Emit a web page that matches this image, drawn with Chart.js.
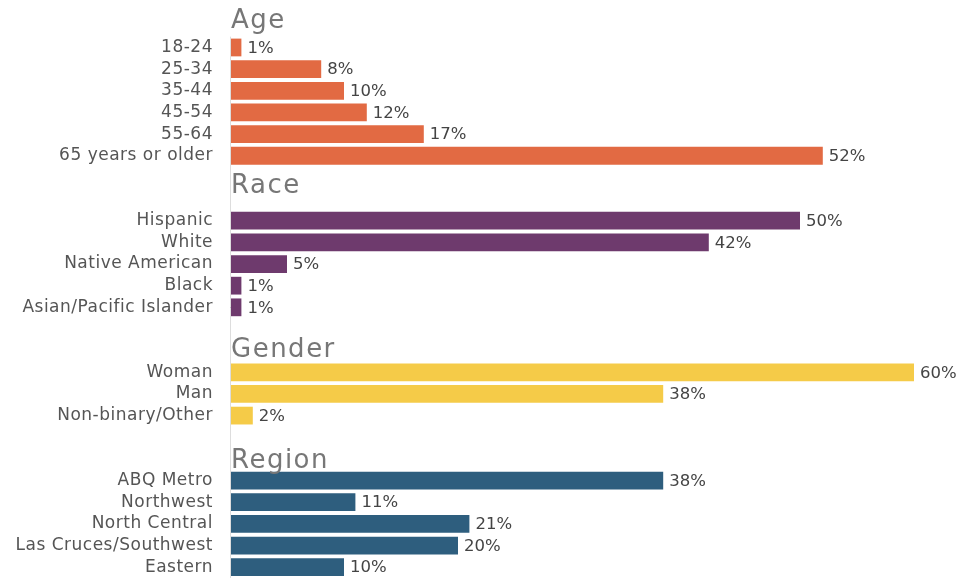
<!DOCTYPE html>
<html>
<head>
<meta charset="utf-8">
<script src="https://cdn.jsdelivr.net/npm/chart.js@4"></script>
<style>
  html, body { margin: 0; padding: 0; background: #fff; }
  #wrap { width: 975px; height: 579px; position: relative; }
</style>
</head>
<body>
<div id="wrap"><canvas id="demoChart"></canvas></div>
<script>
// data
const groupTitles = ['Age', 'Race', 'Gender', 'Region'];
const ageLabels = ['18-24', '25-34', '35-44', '45-54', '55-64', '65 years or older'];
const ageValues = [1, 8, 10, 12, 17, 52];
const raceLabels = ['Hispanic', 'White', 'Native American', 'Black', 'Asian/Pacific Islander'];
const raceValues = [50, 42, 5, 1, 1];
const genderLabels = ['Woman', 'Man', 'Non-binary/Other'];
const genderValues = [60, 38, 2];
const regionLabels = ['ABQ Metro', 'Northwest', 'North Central', 'Las Cruces/Southwest', 'Eastern'];
const regionValues = [38, 11, 21, 20, 10];

const groupColors = ['#E26A43', '#6E3A6D', '#F5CB48', '#2E5E7E'];
const gapRows = [1, 2, 2, 2];
const headerShift = [-0.89, -1.27, -0.69, -0.56]; // header baseline, in rows before first bar

const groups = [
    [ageLabels, ageValues],
    [raceLabels, raceValues],
    [genderLabels, genderValues],
    [regionLabels, regionValues]
];

const labels = [];
const values = [];
const colors = [];
const headers = [];

groups.forEach(function(g, i) {
    for (let k = 0; k < gapRows[i]; k++) {
        labels.push('');
        values.push(null);
        colors.push('rgba(0,0,0,0)');
    }
    headers.push({ text: groupTitles[i], row: labels.length + headerShift[i] });
    g[0].forEach(function(lbl, j) {
        labels.push(lbl);
        values.push(g[1][j]);
        colors.push(groupColors[i]);
    });
});

const FONT = "'DejaVu Sans', sans-serif";

const extras = {
    id: 'extras',
    beforeDraw(chart) {
        // the original font is wide, so spread the letters a little
        chart.ctx.letterSpacing = '0.5px';
    },
    afterDatasetsDraw(chart) {
        const ctx = chart.ctx;
        const x = chart.scales.x;
        const y = chart.scales.y;
        ctx.save();
        // thin axis line
        ctx.strokeStyle = '#dddddd';
        ctx.lineWidth = 1;
        ctx.beginPath();
        ctx.moveTo(x.left + 0.5, y.getPixelForValue(0.5));
        ctx.lineTo(x.left + 0.5, chart.chartArea.bottom);
        ctx.stroke();

        // value labels
        ctx.fillStyle = '#444444';
        ctx.font = '16.5px ' + FONT;
        ctx.letterSpacing = '0px';
        ctx.textAlign = 'left';
        ctx.textBaseline = 'middle';
        chart.getDatasetMeta(0).data.forEach(function(bar, i) {
            const v = values[i];
            if (v === null) return;
            ctx.fillText(v + '%', bar.x + 6, bar.y + 1);
        });

        // group headers
        ctx.fillStyle = '#777777';
        ctx.font = '26px ' + FONT;
        ctx.letterSpacing = '1.5px';
        ctx.textBaseline = 'alphabetic';
        headers.forEach(function(h) {
            ctx.fillText(h.text, x.left + 1, y.getPixelForValue(h.row));
        });
        ctx.restore();
    }
};

const ctx = document.getElementById('demoChart').getContext('2d');
new Chart(ctx, {
    type: 'bar',
    data: {
        labels: labels,
        datasets: [{
            data: values,
            backgroundColor: colors,
            barPercentage: 0.82,
            categoryPercentage: 1
        }]
    },
    options: {
        indexAxis: 'y',
        responsive: true,
        maintainAspectRatio: false,
        animation: false,
        layout: { padding: { top: 15, bottom: 1, right: 61, left: 0 } },
        plugins: {
            legend: { display: false },
            tooltip: { enabled: false }
        },
        scales: {
            x: {
                display: false,
                min: 0,
                max: 60
            },
            y: {
                grid: { display: false },
                border: { display: false },
                afterFit(scale) {
                    scale.width = 230;
                    scale.paddingTop = 0;
                    scale.paddingBottom = 0;
                },
                ticks: {
                    autoSkip: false,
                    padding: 9,
                    color: '#555555',
                    font: { family: FONT, size: 17 }
                }
            }
        }
    },
    plugins: [extras]
});
</script>
</body>
</html>
